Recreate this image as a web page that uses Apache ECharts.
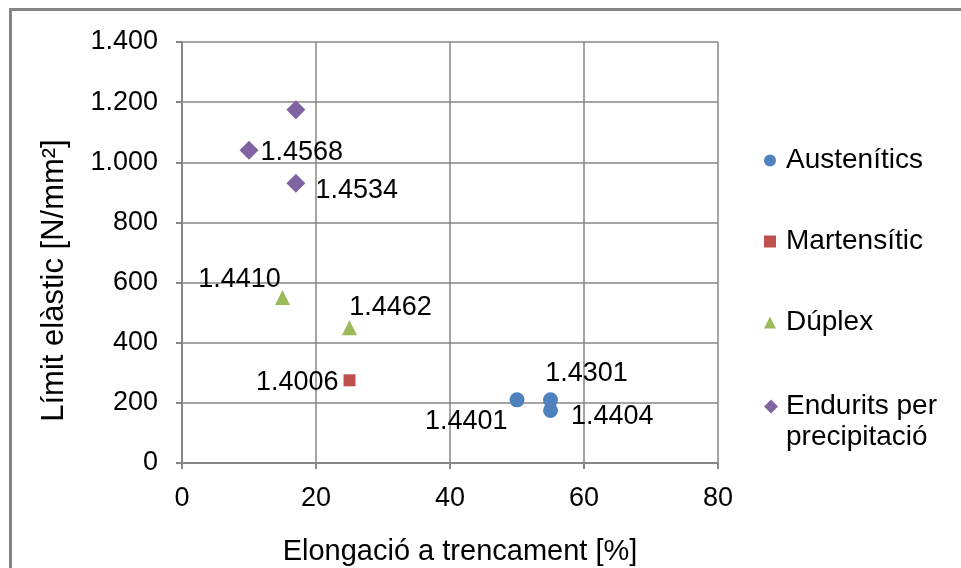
<!DOCTYPE html>
<html>
<head>
<meta charset="utf-8">
<script src="https://cdn.jsdelivr.net/npm/echarts@6/dist/echarts.min.js"></script>
<style>
  html, body { margin: 0; padding: 0; background: #fff; }
  #chart { width: 961px; height: 568px; }
</style>
</head>
<body>
<div id="chart"></div>
<script>
// dades llegides del gràfic
var seriesNames = ['Austenítics', 'Martensític', 'Dúplex', 'Endurits per precipitació'];
var austeniticsX = [55, 50, 55];
var austeniticsY = [210, 210, 175];
var austeniticsLabels = ['1.4301', '1.4401', '1.4404'];
var martensiticX = [25];
var martensiticY = [275];
var martensiticLabels = ['1.4006'];
var duplexX = [15, 25];
var duplexY = [550, 450];
var duplexLabels = ['1.4410', '1.4462'];
var enduritsX = [17, 10, 17];
var enduritsY = [1175, 1040, 930];
var enduritsLabels = ['', '1.4568', '1.4534'];
var xTicks = [0, 20, 40, 60, 80];
var yTicks = [0, 200, 400, 600, 800, 1000, 1200, 1400];

var FONT = 'Liberation Sans, Arial, sans-serif';
var colors = ['#4F81BD', '#C0504D', '#9BBB59', '#8064A2'];
var GRAY = '#868686';

// posició de cada etiqueta (estil, no dades)
var labelPos = {
	'1.4301': { position: 'top', distance: 5, offset: [36, 0] },
	'1.4401': { position: 'left', distance: 2, offset: [0, 22] },
	'1.4404': { position: 'right', distance: 13, offset: [0, 6] },
	'1.4006': { position: 'left', distance: 5, offset: [0, 2] },
	'1.4410': { position: 'top', distance: 0, offset: [-43, 3] },
	'1.4462': { position: 'top', distance: 0, offset: [41, 1] },
	'1.4568': { position: 'right', distance: 2, offset: [0, 2] },
	'1.4534': { position: 'right', distance: 10, offset: [0, 7] }
};

function buildData(xs, ys, labels) {
	var out = [];
	for (var i = 0; i < xs.length; i++) {
		var p = { value: [xs[i], ys[i]], name: labels[i] };
		var lp = labelPos[labels[i]];
		if (lp) {
			p.label = { show: true, position: lp.position, distance: lp.distance, offset: lp.offset };
		} else {
			p.label = { show: false };
		}
		out.push(p);
	}
	return out;
}

var labelStyle = {
	show: true,
	formatter: '{b}',
	color: '#000',
	fontFamily: FONT,
	fontSize: 27
};

var legendText = { color: '#000', fontFamily: FONT, fontSize: 28, lineHeight: 33, padding: [0, 0, 0, 5] };

var chart = echarts.init(document.getElementById('chart'));
chart.setOption({
	animation: false,
	color: colors,
	textStyle: { fontFamily: FONT },
	grid: { left: 182, right: 243, top: 42, bottom: 105, outerBoundsMode: 'none' },
	graphic: [{
		type: 'rect',
		shape: { x: 10.5, y: 9.5, width: 1200, height: 900 },
		style: { fill: 'none', stroke: GRAY, lineWidth: 3 },
		silent: true
	}, {
		// segona línia de la llegenda
		type: 'text',
		left: 786,
		top: 423,
		style: { text: 'precipitació', fill: '#000', font: '28px ' + FONT },
		silent: true
	}],
	legend: [{
		orient: 'vertical',
		left: 759,
		top: 139,
		itemGap: 48,
		itemWidth: 12,
		itemHeight: 12,
		data: seriesNames.slice(0, 3),
		textStyle: legendText
	}, {
		orient: 'vertical',
		left: 759,
		top: 385,
		itemWidth: 14,
		itemHeight: 14,
		data: [seriesNames[3]],
		formatter: function () { return 'Endurits per'; },
		textStyle: { color: '#000', fontFamily: FONT, fontSize: 28, lineHeight: 33, padding: [0, 0, 0, 3] }
	}],
	xAxis: {
		type: 'value',
		min: xTicks[0],
		max: xTicks[xTicks.length - 1],
		interval: 20,
		name: 'Elongació a trencament [%]',
		nameLocation: 'middle',
		nameGap: 74,
		nameTextStyle: { color: '#000', fontFamily: FONT, fontSize: 29, padding: [0, 0, 0, 20] },
		axisLine: { show: true, lineStyle: { color: GRAY, width: 2 } },
		axisTick: { show: true, length: 6, lineStyle: { color: GRAY, width: 2 } },
		axisLabel: { color: '#000', fontFamily: FONT, fontSize: 27, margin: 22 },
		splitLine: { show: true, lineStyle: { color: GRAY, width: 1.5 } }
	},
	yAxis: {
		type: 'value',
		min: yTicks[0],
		max: yTicks[yTicks.length - 1],
		interval: 200,
		name: 'Límit elàstic [N/mm²]',
		nameLocation: 'middle',
		nameGap: 112,
		nameTextStyle: { color: '#000', fontFamily: FONT, fontSize: 31, padding: [0, 56, 0, 0] },
		axisLine: { show: true, lineStyle: { color: GRAY, width: 2 } },
		axisTick: { show: true, length: 6, lineStyle: { color: GRAY, width: 2 } },
		axisLabel: {
			color: '#000', fontFamily: FONT, fontSize: 27, margin: 24,
			formatter: function (v) { return v.toString().replace(/\B(?=(\d{3})+(?!\d))/g, '.'); }
		},
		splitLine: { show: true, lineStyle: { color: GRAY, width: 1.5 } }
	},
	series: [{
		name: seriesNames[0],
		type: 'scatter',
		symbol: 'circle',
		symbolSize: 15,
		itemStyle: { opacity: 1 },
		label: labelStyle,
		data: buildData(austeniticsX, austeniticsY, austeniticsLabels)
	}, {
		name: seriesNames[1],
		type: 'scatter',
		symbol: 'rect',
		symbolSize: 12,
		itemStyle: { opacity: 1 },
		label: labelStyle,
		data: buildData(martensiticX, martensiticY, martensiticLabels)
	}, {
		name: seriesNames[2],
		type: 'scatter',
		symbol: 'triangle',
		symbolSize: 15,
		itemStyle: { opacity: 1 },
		label: labelStyle,
		data: buildData(duplexX, duplexY, duplexLabels)
	}, {
		name: seriesNames[3],
		type: 'scatter',
		symbol: 'diamond',
		symbolSize: 19,
		itemStyle: { opacity: 1 },
		label: labelStyle,
		data: buildData(enduritsX, enduritsY, enduritsLabels)
	}]
});
</script>
</body>
</html>
